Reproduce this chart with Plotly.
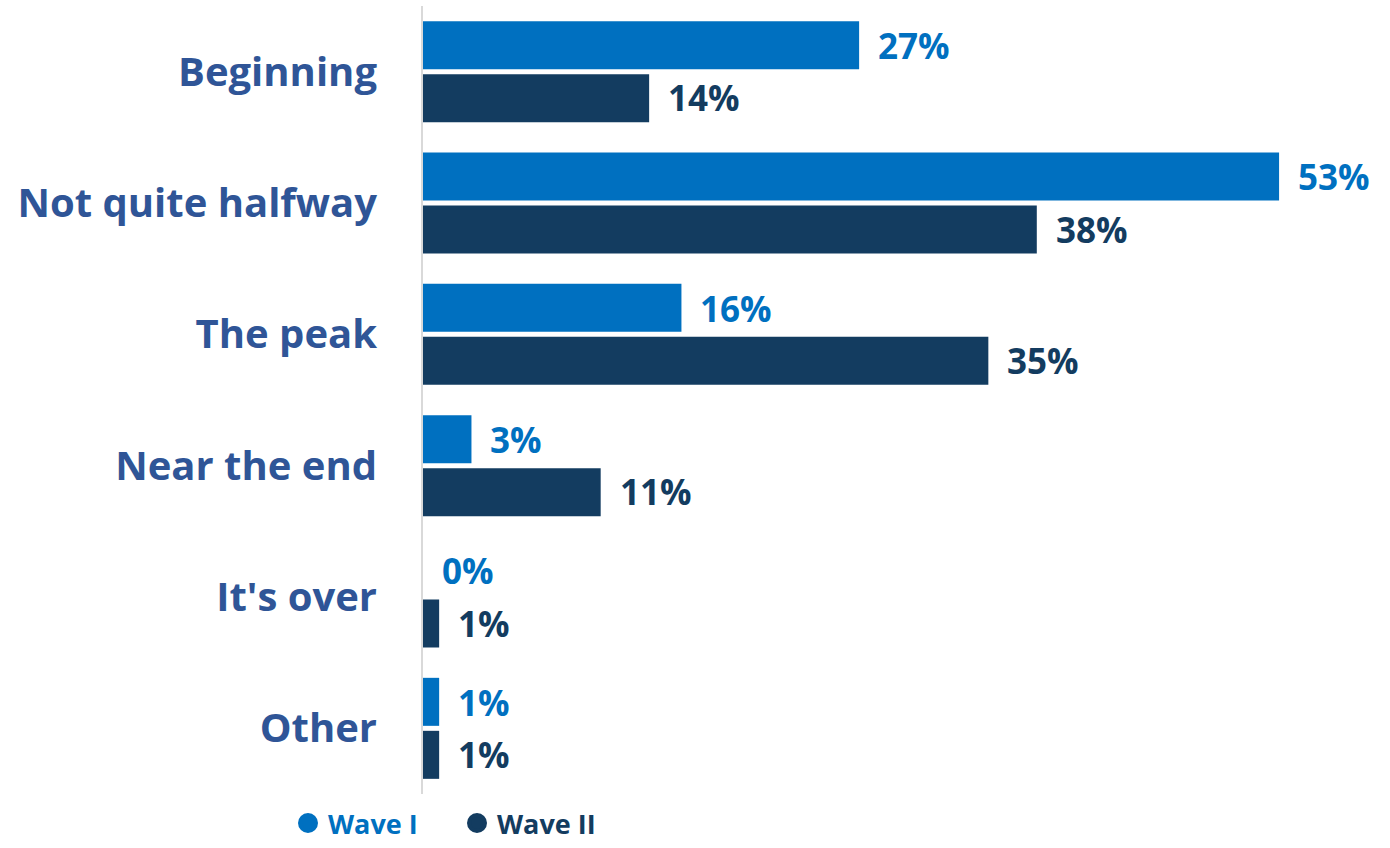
import plotly.graph_objects as go

categories = ["Beginning", "Not quite halfway", "The peak", "Near the end", "It's over", "Other"]
wave1 = [27, 53, 16, 3, 0, 1]
wave2 = [14, 38, 35, 11, 1, 1]
series_names = ["Wave I", "Wave II"]
colors = ["#0070C0", "#133C60"]
label_color = "#2F5597"

FONT = "Open Sans"

fig = go.Figure()
for name, vals, col in zip(series_names, [wave1, wave2], colors):
    fig.add_trace(go.Bar(
        y=categories, x=vals, orientation="h", name=name,
        marker=dict(color=col, line=dict(width=0)),
        showlegend=False,
    ))

# legend markers (circles)
for name, col in zip(series_names, colors):
    fig.add_trace(go.Scatter(
        x=[None], y=[None], mode="markers",
        marker=dict(symbol="circle", size=16, color=col, line=dict(color=col, width=4)),
        name=f'<span style="color:{col}">{name}</span>',
        showlegend=True,
    ))

# value labels at bar ends
annotations = []
for i, cat in enumerate(categories):
    for j, (vals, col) in enumerate(zip([wave1, wave2], colors)):
        offset = -0.2 if j == 0 else 0.2
        annotations.append(dict(
            x=vals[i], y=i + offset, xref="x", yref="y",
            text=f"<b>{vals[i]}%</b>", showarrow=False,
            xanchor="left", yanchor="middle", xshift=17,
            font=dict(family=FONT, size=35, color=col),
        ))

fig.update_layout(
    barmode="group", bargap=0.193, bargroupgap=0.094,
    width=1390, height=848,
    margin=dict(l=423, r=14, t=6, b=54),
    plot_bgcolor="white", paper_bgcolor="white",
    font=dict(family=FONT),
    xaxis=dict(range=[0, 59], visible=False, fixedrange=True),
    yaxis=dict(
        autorange="reversed", showgrid=False, zeroline=False,
        showline=True, linecolor="#D9D9D9", linewidth=2,
        ticks="", ticklabelstandoff=36, automargin=False, fixedrange=True,
        tickfont=dict(family=FONT, size=40, color=label_color, weight="bold"),
    ),
    legend=dict(
        orientation="h", xref="container", yref="container",
        x=288 / 1390, y=0, xanchor="left", yanchor="bottom",
        font=dict(family=FONT, size=27, weight="bold"),
        itemwidth=30, entrywidth=124, entrywidthmode="pixels",
        borderwidth=0,
    ),
    annotations=annotations,
)

fig.write_html(
    "out.html",
    config={"displayModeBar": False},
    post_script="document.body.style.margin='0';document.body.style.padding='0';",
)
